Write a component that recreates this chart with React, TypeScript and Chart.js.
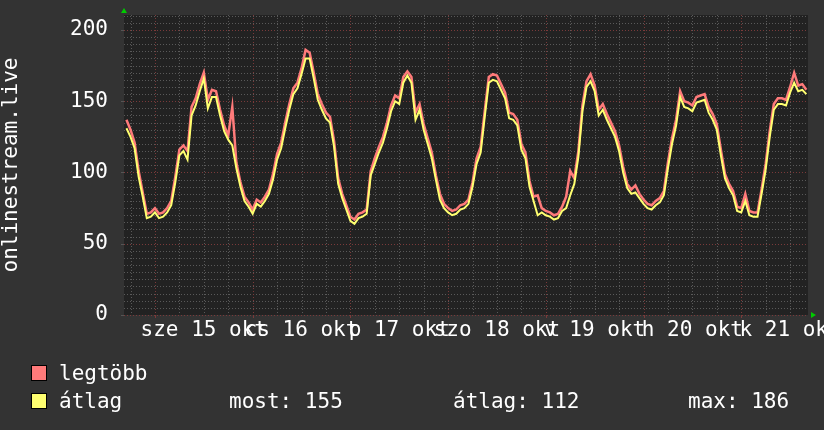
import { useEffect, useRef } from 'react';
import { Chart, registerables } from 'chart.js';

Chart.register(...registerables);

// Time axis in hours, relative to okt 15 00:00
const START_HOUR = -7;
const STEP_HOURS = 1;
const X_MIN = -7.6;
const X_MAX = 160.4;
const Y_MAX = 210.5;

const DAY_LABELS = ['sze 15 okt', 'cs 16 okt', 'p 17 okt', 'szo 18 okt', 'v 19 okt', 'h 20 okt', 'k 21 okt'];
const Y_LABELED = [0, 50, 100, 150, 200];

const SERIES_NAMES = ['legtöbb', 'átlag'];
const STAT_TEXTS = ['most: 155', 'átlag: 112', 'max: 186'];
const Y_TITLE = 'onlinestream.live';

// hourly averages (átlag)
const AVG = [
  131, 125, 117, 97, 83, 68, 69,
  72, 68, 69, 72, 77, 93, 112, 115, 109, 140, 147, 157, 166, 145, 153, 153, 140, 129, 123, 119, 103, 90, 80, 76,
  71, 78, 76, 80, 85, 95, 109, 117, 131, 144, 155, 159, 169, 180, 180, 166, 151, 144, 138, 135, 118, 92, 82, 74,
  66, 64, 68, 69, 71, 98, 106, 114, 121, 131, 143, 150, 148, 163, 168, 163, 137, 144, 130, 120, 110, 95, 81, 75,
  72, 70, 71, 74, 75, 78, 90, 106, 114, 139, 163, 165, 164, 158, 152, 138, 137, 133, 116, 110, 90, 80, 70, 72,
  70, 69, 67, 68, 73, 75, 84, 92, 111, 143, 160, 164, 157, 140, 144, 137, 131, 125, 115, 100, 89, 85, 86, 82,
  78, 75, 74, 77, 79, 84, 103, 120, 133, 153, 146, 145, 143, 149, 150, 151, 142, 137, 130, 112, 96, 89, 84, 73,
  72, 80, 70, 69, 69, 85, 102, 125, 144, 148, 148, 147, 156, 163, 157, 158, 155,
];

// hourly maxima (legtöbb)
const MAX = [
  137, 130, 121, 101, 86, 71, 72,
  75, 71, 72, 75, 80, 97, 116, 119, 115, 146, 152, 162, 170, 151, 158, 157, 144, 133, 126, 146, 107, 93, 83, 79,
  74, 81, 79, 83, 88, 99, 113, 121, 135, 148, 159, 163, 173, 186, 184, 170, 155, 148, 142, 139, 122, 96, 85, 77,
  69, 67, 71, 72, 74, 101, 110, 118, 125, 135, 147, 154, 152, 167, 171, 167, 142, 148, 134, 124, 114, 98, 85, 78,
  75, 73, 74, 77, 78, 81, 93, 110, 118, 143, 167, 169, 168, 162, 156, 142, 141, 137, 120, 114, 94, 83, 84, 75,
  73, 72, 70, 71, 76, 83, 101, 96, 115, 147, 164, 169, 161, 144, 148, 141, 135, 129, 119, 104, 92, 88, 91, 85,
  81, 78, 77, 80, 82, 87, 107, 124, 137, 157, 150, 149, 147, 153, 154, 155, 146, 141, 134, 116, 99, 92, 87, 76,
  75, 85, 73, 72, 72, 88, 106, 129, 148, 152, 152, 151, 160, 170, 161, 162, 158,
];

const FONT = '"DejaVu Sans Mono", monospace';
const BG = '#333333';
const PLOT_BG = '#222222';
const MINOR = '#595959';
const MAJOR = '#7a3a3a';
const RED = '#ff7a7a';
const YELLOW = '#ffff70';

const toPoints = (arr: number[]) => arr.map((v, i) => ({ x: START_HOUR + i * STEP_HOURS, y: v }));

const rrdPlugin = {
  id: 'rrdDecor',
  beforeDraw(chart: any) {
    const { ctx, chartArea: a, width, height } = chart;
    ctx.save();
    ctx.fillStyle = BG;
    ctx.fillRect(0, 0, width, height);
    ctx.fillStyle = PLOT_BG;
    ctx.fillRect(a.left, a.top, a.right - a.left, a.bottom - a.top);
    ctx.restore();
  },
  beforeDatasetsDraw(chart: any) {
    const { ctx, chartArea: a, scales } = chart;
    const xs = scales.x;
    const ys = scales.y;
    ctx.save();
    ctx.lineWidth = 1;
    ctx.setLineDash([1, 2]);
    // horizontal
    for (const t of ys.ticks) {
      const v = t.value;
      const py = Math.round(ys.getPixelForValue(v)) + 0.5;
      ctx.strokeStyle = v % 50 === 0 ? MAJOR : MINOR;
      ctx.beginPath();
      ctx.moveTo(a.left, py);
      ctx.lineTo(a.right, py);
      ctx.stroke();
    }
    // vertical
    for (const t of xs.ticks) {
      const v = t.value;
      const px = Math.round(xs.getPixelForValue(v)) + 0.5;
      const major = ((v % 24) + 24) % 24 === 0;
      ctx.strokeStyle = major ? MAJOR : MINOR;
      ctx.beginPath();
      ctx.moveTo(px, a.top);
      ctx.lineTo(px, a.bottom);
      ctx.stroke();
      if (major) {
        ctx.setLineDash([]);
        ctx.beginPath();
        ctx.moveTo(px, a.bottom);
        ctx.lineTo(px, a.bottom + 3);
        ctx.stroke();
        ctx.setLineDash([1, 2]);
      }
    }
    ctx.setLineDash([]);
    ctx.strokeStyle = '#555555';
    for (const v of Y_LABELED) {
      const py = Math.round(ys.getPixelForValue(v)) + 0.5;
      ctx.beginPath();
      ctx.moveTo(a.left - 3, py);
      ctx.lineTo(a.left, py);
      ctx.stroke();
    }
    ctx.restore();
  },
  afterDraw(chart: any) {
    const { ctx, chartArea: a } = chart;
    ctx.save();
    // arrows
    ctx.fillStyle = '#00cc00';
    ctx.beginPath();
    ctx.moveTo(a.left - 3, a.top - 2);
    ctx.lineTo(a.left + 3, a.top - 2);
    ctx.lineTo(a.left, a.top - 7);
    ctx.closePath();
    ctx.fill();
    ctx.beginPath();
    ctx.moveTo(a.right + 3, a.bottom - 3);
    ctx.lineTo(a.right + 3, a.bottom + 3);
    ctx.lineTo(a.right + 8, a.bottom);
    ctx.closePath();
    ctx.fill();

    // y title
    ctx.fillStyle = '#ffffff';
    ctx.font = `21px ${FONT}`;
    ctx.save();
    ctx.translate(12, (a.top + a.bottom) / 2);
    ctx.rotate(-Math.PI / 2);
    ctx.textAlign = 'center';
    ctx.textBaseline = 'middle';
    ctx.fillText(Y_TITLE, 0, 0);
    ctx.restore();

    // legend
    const colors = [RED, YELLOW];
    const rows = [380, 408];
    ctx.textAlign = 'left';
    ctx.textBaseline = 'alphabetic';
    for (let i = 0; i < 2; i++) {
      const by = rows[i] - 15;
      ctx.fillStyle = colors[i];
      ctx.fillRect(31, by, 16, 16);
      ctx.strokeStyle = '#000000';
      ctx.lineWidth = 1;
      ctx.strokeRect(31.5, by + 0.5, 15, 15);
      ctx.fillStyle = '#ffffff';
      ctx.fillText(SERIES_NAMES[i], 59, rows[i]);
    }
    const statX = [229, 453, 688];
    STAT_TEXTS.forEach((t, i) => ctx.fillText(t, statX[i], 408));
    ctx.restore();
  },
};

export default function App() {
  const ref = useRef<HTMLCanvasElement | null>(null);
  useEffect(() => {
    if (!ref.current) return;
    const chart = new Chart(ref.current, {
      type: 'line',
      data: {
        datasets: [
          {
            label: SERIES_NAMES[0],
            data: toPoints(MAX),
            borderColor: RED,
            borderWidth: 2.5,
            pointRadius: 0,
            tension: 0,
            fill: false,
            order: 2,
          },
          {
            label: SERIES_NAMES[1],
            data: toPoints(AVG),
            borderColor: YELLOW,
            borderWidth: 2,
            pointRadius: 0,
            tension: 0,
            fill: false,
            order: 1,
          },
        ],
      },
      options: {
        responsive: false,
        animation: false,
        events: [],
        devicePixelRatio: 1,
        layout: { padding: { left: 0, right: 16, top: 15, bottom: 0 } },
        plugins: { legend: { display: false }, tooltip: { enabled: false }, title: { display: false } },
        scales: {
          x: {
            type: 'linear',
            min: X_MIN,
            max: X_MAX,
            afterBuildTicks: (s: any) => {
              const t = [];
              for (let v = -6; v <= X_MAX; v += 6) t.push({ value: v });
              s.ticks = t;
            },
            afterFit: (s: any) => {
              s.height = 115;
              s.paddingLeft = 0;
              s.paddingRight = 0;
            },
            grid: { display: false, drawTicks: false },
            border: { display: false },
            ticks: {
              autoSkip: false,
              maxRotation: 0,
              minRotation: 0,
              padding: 3,
              color: '#ffffff',
              font: { family: FONT, size: 21 },
              callback: (v: any) => {
                const n = Number(v);
                if (((n % 24) + 24) % 24 !== 12) return '';
                return DAY_LABELS[(n - 12) / 24] ?? '';
              },
            },
          },
          y: {
            type: 'linear',
            min: 0,
            max: Y_MAX,
            afterBuildTicks: (s: any) => {
              const t = [];
              for (let v = 0; v <= Y_MAX; v += 5) t.push({ value: v });
              s.ticks = t;
            },
            afterFit: (s: any) => {
              s.width = 124;
              s.paddingTop = 0;
              s.paddingBottom = 0;
            },
            grid: { display: false, drawTicks: false },
            border: { display: false },
            ticks: {
              autoSkip: false,
              padding: 16,
              color: '#ffffff',
              font: { family: FONT, size: 21 },
              callback: (v: any) => (Number(v) % 50 === 0 ? String(v) : ''),
            },
          },
        },
      },
      plugins: [rrdPlugin],
    });
    return () => chart.destroy();
  }, []);
  return (
    <div style={{ position: 'absolute', left: 0, top: 0, width: 824, height: 430, background: BG }}>
      <canvas ref={ref} width={824} height={430} style={{ display: 'block', width: 824, height: 430 }} />
    </div>
  );
}
